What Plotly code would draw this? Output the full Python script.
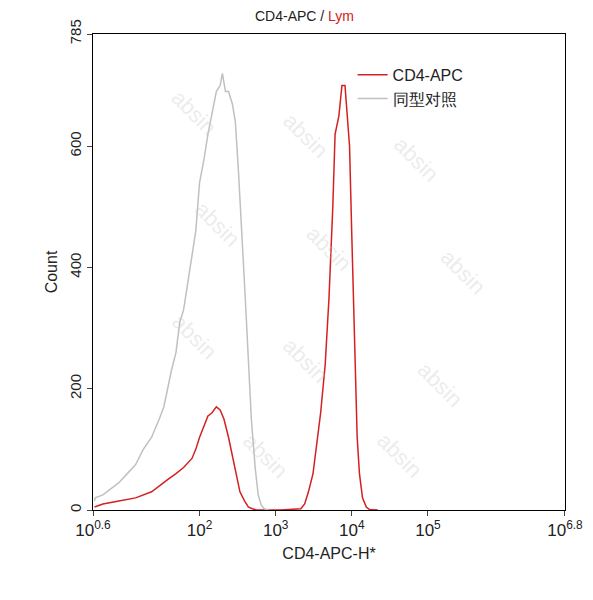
import plotly.graph_objects as go

# log10 of fluorescence, counts
iso_log = [0.62,0.63,0.73,0.84,0.94,1.05,1.16,1.26,1.37,1.47,1.53,1.58,1.63,1.69,1.74,1.79,1.85,1.9,1.95,2.0,2.06,2.11,2.16,2.22,2.27,2.30,2.34,2.38,2.43,2.47,2.51,2.56,2.60,2.64,2.68,2.73,2.77,2.81,2.85,2.91]
iso_cnt = [15,20,25,35,45,60,75,100,120,150,170,200,230,260,310,330,380,420,460,540,580,620,650,690,700,720,690,690,670,640,560,450,350,250,150,70,25,8,2,0]
cd4_log = [0.62,0.73,0.94,1.16,1.37,1.47,1.58,1.69,1.79,1.90,1.95,2.0,2.06,2.11,2.16,2.22,2.27,2.32,2.38,2.43,2.48,2.53,2.59,2.64,2.69,2.75,3.06,3.33,3.38,3.43,3.49,3.54,3.59,3.65,3.7,3.75,3.78,3.83,3.87,3.91,3.94,3.97,4.0,4.04,4.07,4.1,4.14,4.19,4.23,4.34]
cd4_cnt = [5,10,15,20,30,40,50,60,70,85,100,120,140,155,160,170,165,150,120,90,60,30,15,5,2,0,0,2,10,30,60,110,160,240,350,500,620,650,700,700,650,600,450,250,120,60,20,5,1,0]

tick_vals = [10**0.6,1e2,1e3,1e4,1e5,10**6.7999]
tick_text = ["10<sup>0.6</sup>","10<sup>2</sup>","10<sup>3</sup>","10<sup>4</sup>","10<sup>5</sup>","10<sup>6.8</sup>"]

fig = go.Figure()
fig.add_trace(go.Scatter(x=[10**v for v in cd4_log], y=cd4_cnt, mode="lines", name="CD4-APC",
                         line=dict(color="#d42020", width=1.5)))
fig.add_trace(go.Scatter(x=[10**v for v in iso_log], y=iso_cnt, mode="lines", name="同型对照",
                         line=dict(color="#c0c0c0", width=1.5)))

for (x, y) in [(0.15,0.9),(0.45,0.85),(0.75,0.8),(0.2,0.6),(0.5,0.55),(0.85,0.5),(0.15,0.3),(0.45,0.25),(0.8,0.2),(0.3,0.05),(0.65,0.05)]:
    fig.add_annotation(x=x, y=y, xref="paper", yref="paper", text="absin", showarrow=False,
                       textangle=45, font=dict(size=22, color="rgba(200,200,200,0.35)"))

fig.update_layout(
    width=593, height=600, plot_bgcolor="white", paper_bgcolor="white",
    font=dict(family="Liberation Sans, Arial", size=15, color="#222"),
    margin=dict(l=85, r=36, t=26, b=98, autoexpand=False),
    title=dict(text="CD4-APC / <span style='color:#d42020'>Lym</span>", x=0.5, y=0.995, yanchor="top",
               xanchor="center", font=dict(size=14)),
    legend=dict(x=0.55, y=0.95, xanchor="left", yanchor="top", bgcolor="rgba(0,0,0,0)", font=dict(size=16)),
    showlegend=True,
)
fig.update_xaxes(type="log", range=[0.6,6.8], tickvals=tick_vals, ticktext=tick_text, showline=True,
                 linecolor="black", mirror=True, ticks="outside", showgrid=False,
                 title=dict(text="CD4-APC-H*", standoff=8, font=dict(size=16)), tickfont=dict(size=17))
fig.update_yaxes(range=[0,785], tickvals=[0,200,400,600,785], showline=True, linecolor="black", mirror=True,
                 ticks="outside", showgrid=False, tickangle=-90, title=dict(text="Count", standoff=5, font=dict(size=16)),
                 zeroline=False, tickfont=dict(size=15))
fig.write_html("out.html")
